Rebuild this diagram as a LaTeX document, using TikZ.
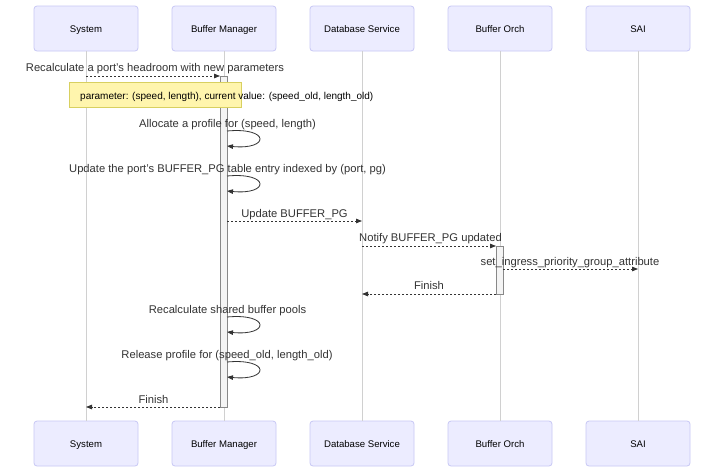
\documentclass[tikz,border=0pt]{standalone}
\usepackage{fontspec}
\setmainfont{Liberation Sans}
\usetikzlibrary{arrows.meta}
\definecolor{actfill}{HTML}{ECECFF}
\definecolor{actdraw}{HTML}{C8C8F5}
\definecolor{txt}{HTML}{333333}
\definecolor{lifeln}{HTML}{D0D0D0}
\definecolor{notefill}{HTML}{FFF5AD}
\definecolor{notedraw}{HTML}{D8D060}
\definecolor{barfill}{HTML}{F4F4F4}
\definecolor{bardraw}{HTML}{888888}
\tikzset{
  actor/.style={draw=actdraw, fill=actfill, rounded corners=3pt, line width=0.8pt,
    minimum width=104pt, minimum height=45pt, inner sep=0pt, text=black,
    text height=8.6pt, text depth=0pt,
    font=\fontsize{9.6}{11}\selectfont},
  lifeline/.style={draw=lifeln, line width=0.7pt},
  actbar/.style={draw=bardraw, fill=barfill, line width=0.7pt, minimum width=7pt, inner sep=0pt},
  msg/.style={draw=txt, line width=0.8pt, dash pattern=on 2pt off 2pt,
    -{Triangle[length=6pt,width=4.5pt]}},
  selfmsg/.style={draw=txt, line width=0.8pt, -{Triangle[length=6pt,width=4.5pt]}},
  msgtext/.style={text=txt, inner sep=0pt, anchor=base, font=\fontsize{11.2}{13}\selectfont},
  notebox/.style={draw=notedraw, fill=notefill, line width=0.8pt, inner sep=0pt,
    minimum width=172pt, minimum height=25pt},
  notetext/.style={text=black, inner sep=0pt, anchor=base west, font=\fontsize{10}{12}\selectfont},
}
\begin{document}
\begin{tikzpicture}[x=1pt,y=-1pt]
\useasboundingbox[fill=white] (0,0) rectangle (724,467);
% actors
\node[actor] (sysT) at (86,28.5) {System};
\node[actor] (bmT) at (224,28.5) {Buffer Manager};
\node[actor] (dbT) at (362,28.5) {Database Service};
\node[actor] (boT) at (500,28.5) {Buffer Orch};
\node[actor] (saiT) at (638,28.5) {SAI};
\node[actor] (sysB) at (86,443.5) {System};
\node[actor] (bmB) at (224,443.5) {Buffer Manager};
\node[actor] (dbB) at (362,443.5) {Database Service};
\node[actor] (boB) at (500,443.5) {Buffer Orch};
\node[actor] (saiB) at (638,443.5) {SAI};
% lifelines
\draw[lifeline] (sysT.south) -- (sysB.north);
\draw[lifeline] (bmT.south) -- (bmB.north);
\draw[lifeline] (dbT.south) -- (dbB.north);
\draw[lifeline] (boT.south) -- (boB.north);
\draw[lifeline] (saiT.south) -- (saiB.north);
% activation bars
\node[actbar, minimum height=331pt] (bmbar) at (223.5,241.5) {};
\node[actbar, minimum height=48pt] (bobar) at (499.5,270) {};
% coordinates
\coordinate (s1) at (86,76);   \coordinate (b1) at (220,76);
\coordinate (b5) at (227,221); \coordinate (d5) at (362,221);
\coordinate (d6) at (362,246); \coordinate (o6) at (496,246);
\coordinate (o7) at (503,269); \coordinate (a7) at (638,269);
\coordinate (o8) at (496,294); \coordinate (d8) at (362,294);
\coordinate (b11) at (220,407); \coordinate (s11) at (86,407);
\coordinate (l3a) at (227,131); \coordinate (l3b) at (227,146);
\coordinate (l4a) at (227,176); \coordinate (l4b) at (227,191);
\coordinate (l9a) at (227,317); \coordinate (l9b) at (227,332);
\coordinate (l10a) at (227,362); \coordinate (l10b) at (227,377);
% message 1
\node[msgtext] (t1) at (155,71) {Recalculate a port's headroom with new parameters};
\draw[msg] (s1) -- (b1);
% note
\node[notebox] (note) at (155,95) {};
\node[notetext] (notet) at (80,99) {parameter: (speed, length), current value: (speed\_old, length\_old)};
% self messages
\node[msgtext] (t3) at (227.5,127) {Allocate a profile for (speed, length)};
\draw[selfmsg] (l3a) .. controls (270,127) and (270,150) .. (l3b);
\node[msgtext] (t4) at (227.5,172) {Update the port's BUFFER\_PG table entry indexed by (port, pg)};
\draw[selfmsg] (l4a) .. controls (270,172) and (270,195) .. (l4b);
% message 5
\node[msgtext] (t5) at (294.5,217) {Update BUFFER\_PG};
\draw[msg] (b5) -- (d5);
% message 6
\node[msgtext] (t6) at (430.5,241) {Notify BUFFER\_PG updated};
\draw[msg] (d6) -- (o6);
% message 7
\node[msgtext] (t7) at (570,265) {set\_ingress\_priority\_group\_attribute};
\draw[msg] (o7) -- (a7);
% message 8
\node[msgtext] (t8) at (429,289) {Finish};
\draw[msg] (o8) -- (d8);
% message 9
\node[msgtext] (t9) at (227.5,313) {Recalculate shared buffer pools};
\draw[selfmsg] (l9a) .. controls (270,313) and (270,336) .. (l9b);
% message 10
\node[msgtext] (t10) at (227,358) {Release profile for (speed\_old, length\_old)};
\draw[selfmsg] (l10a) .. controls (270,358) and (270,381) .. (l10b);
% message 11
\node[msgtext] (t11) at (153.5,403) {Finish};
\draw[msg] (b11) -- (s11);
\end{tikzpicture}
\end{document}
